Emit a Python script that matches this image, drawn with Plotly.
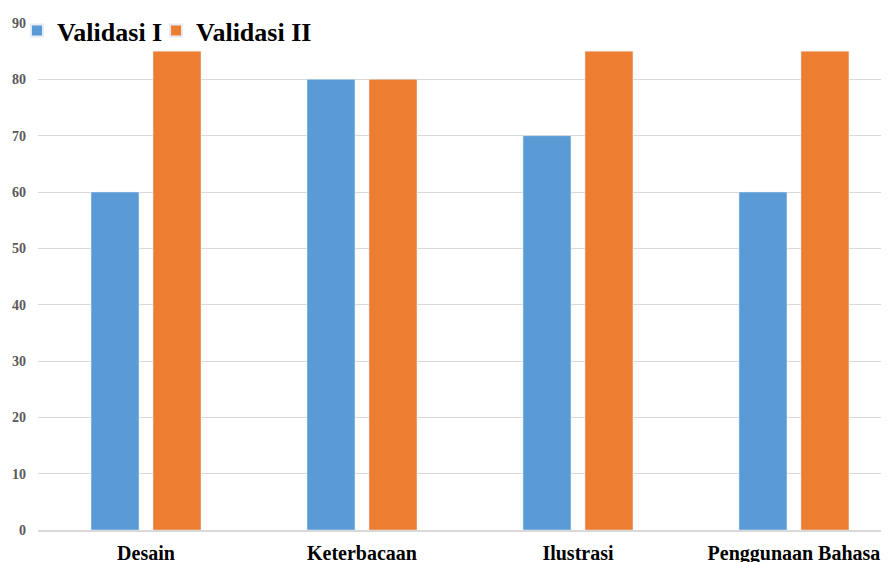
import plotly.graph_objects as go

categories = ["Desain", "Keterbacaan", "Ilustrasi", "Penggunaan Bahasa"]
validasi_1 = [60, 80, 70, 60]
validasi_2 = [85, 80, 85, 85]
y_ticks = [0, 10, 20, 30, 40, 50, 60, 70, 80, 90]

serif = "Liberation Serif"
legend_font = dict(family=serif, size=26, color="black", weight="bold")

fig = go.Figure()
fig.add_trace(go.Bar(name="Validasi I", x=categories, y=validasi_1,
                     marker_color="#5B9BD5", legend="legend"))
fig.add_trace(go.Bar(name="Validasi II", x=categories, y=validasi_2,
                     marker_color="#ED7D31", legend="legend2"))

fig.update_layout(
    width=889, height=562,
    margin=dict(l=30, r=8, t=15, b=40, autoexpand=False),
    plot_bgcolor="white", paper_bgcolor="white",
    barmode="group", bargap=0.426, bargroupgap=0.226,
    showlegend=True,
    legend=dict(orientation="h", x=-0.0247, xanchor="left", y=0.985, yanchor="middle",
                font=legend_font, bgcolor="rgba(0,0,0,0)", itemsizing="constant"),
    legend2=dict(orientation="h", x=0.1387, xanchor="left", y=0.985, yanchor="middle",
                 font=legend_font, bgcolor="rgba(0,0,0,0)", itemsizing="constant"),
    xaxis=dict(range=[-0.5, 3.44], showgrid=False, showline=True, linecolor="#d9d9d9",
               linewidth=1.5, ticks="",
               tickfont=dict(family=serif, size=20, color="black", weight="bold"),
               ticklabelstandoff=4,
               fixedrange=True),
    yaxis=dict(range=[0, 90], tickvals=y_ticks, showgrid=True, gridcolor="#d9d9d9",
               gridwidth=1, zeroline=False, showline=False, ticks="",
               tickfont=dict(family=serif, size=14, color="#595959", weight="bold"),
               ticklabelstandoff=11),
)
fig.write_html("out.html")
